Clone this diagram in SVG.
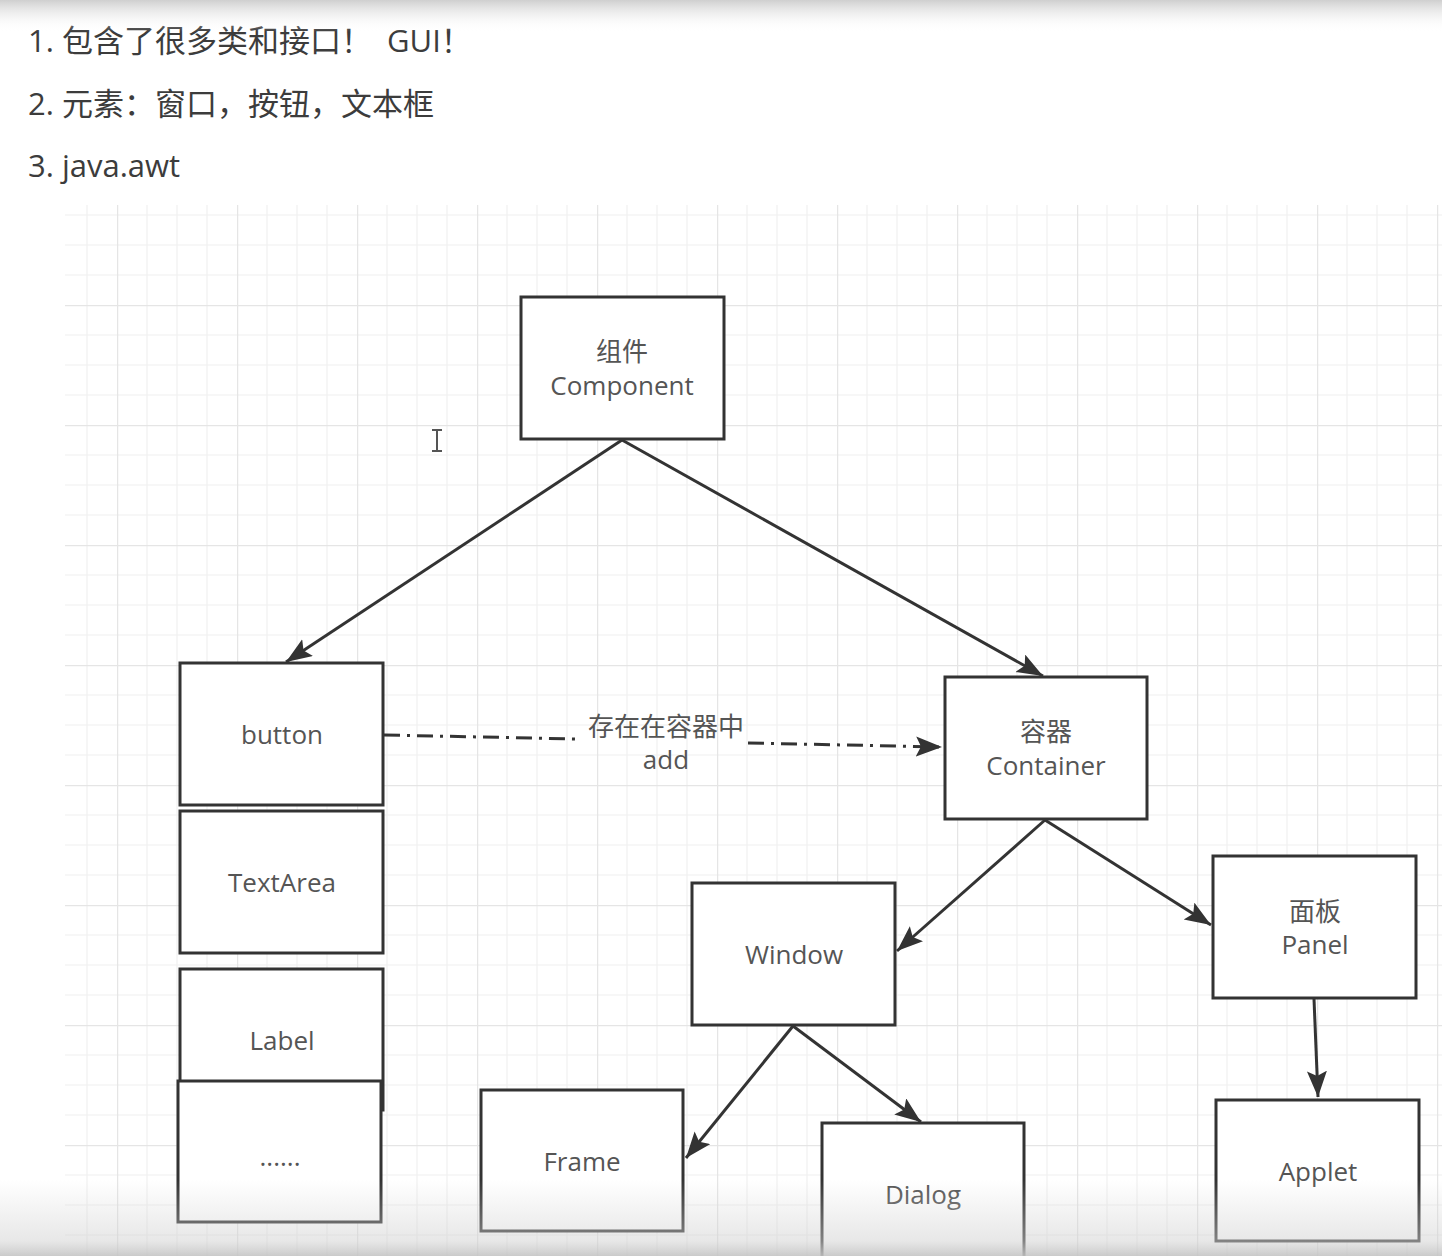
<svg xmlns="http://www.w3.org/2000/svg" width="1442" height="1256" viewBox="0 0 1442 1256">
<style>
.node rect{fill:#fff;stroke:#333;stroke-width:3}
.lbl{font-family:"Open Sans","Noto Sans CJK SC",sans-serif;font-size:26px;fill:#555;text-anchor:middle}
.hdr{font-family:"Open Sans","Noto Sans CJK SC",sans-serif;font-size:31px;fill:#3c3c3c}
.edge{fill:none;stroke:#333;stroke-width:3}
.dash{stroke-dasharray:16 7 3 7}
</style>
<defs>
<pattern id="grid" patternUnits="userSpaceOnUse" x="117" y="305" width="120" height="120">
<path d="M30 0V120M60 0V120M90 0V120M0 30H120M0 60H120M0 90H120" stroke="#f0f0f0" stroke-width="1.2" fill="none"/>
<path d="M0.5 0V120M0 0.5H120" stroke="#e5e5e5" stroke-width="1.5" fill="none"/>
</pattern>
<marker id="arr" markerUnits="userSpaceOnUse" markerWidth="28" markerHeight="22" refX="26" refY="10" orient="auto">
<path d="M0 0L26 10L0 20L5 10Z" fill="#333"/>
</marker>
<linearGradient id="topg" x1="0" y1="0" x2="0" y2="1">
<stop offset="0" stop-color="#cfcfcf"/>
<stop offset="1" stop-color="#ffffff" stop-opacity="0"/>
</linearGradient>
<linearGradient id="botg" x1="0" y1="0" x2="0" y2="1">
<stop offset="0" stop-color="#d0d0d0" stop-opacity="0"/>
<stop offset="0.8" stop-color="#d0d0d0" stop-opacity="0.5"/>
<stop offset="1" stop-color="#c4c4c4" stop-opacity="0.9"/>
</linearGradient>
</defs>
<rect width="1442" height="1256" fill="#fff"/>
<rect x="65" y="205" width="1377" height="1051" fill="url(#grid)"/>
<g id="header">
<text class="hdr" x="28" y="52">1. 包含了很多类和接口！<tspan x="387">GUI！</tspan></text>
<text class="hdr" x="28" y="115">2. 元素：窗口，按钮，文本框</text>
<text class="hdr" x="28" y="177">3. java.awt</text>
</g>
<g id="connectors">
<line class="edge" x1="622" y1="440" x2="286" y2="662" marker-end="url(#arr)"/>
<line class="edge" x1="622" y1="440" x2="1043" y2="676" marker-end="url(#arr)"/>
<path class="edge dash" d="M384 735L578 739"/>
<path class="edge dash" d="M748 743L942 747" marker-end="url(#arr)"/>
<line class="edge" x1="1045" y1="820" x2="897" y2="951" marker-end="url(#arr)"/>
<line class="edge" x1="1045" y1="820" x2="1211" y2="925" marker-end="url(#arr)"/>
<line class="edge" x1="793" y1="1026" x2="686" y2="1158" marker-end="url(#arr)"/>
<line class="edge" x1="793" y1="1026" x2="921" y2="1122" marker-end="url(#arr)"/>
<line class="edge" x1="1314" y1="999" x2="1318" y2="1097" marker-end="url(#arr)"/>
<text class="lbl" x="666" y="736">存在在容器中</text>
<text class="lbl" x="666" y="769">add</text>
</g>
<g id="component" class="node"><rect x="521" y="297" width="203" height="142"/><text class="lbl" x="622" y="361">组件</text><text class="lbl" x="622" y="395">Component</text></g>
<g id="button" class="node"><rect x="180" y="663" width="203" height="142"/><text class="lbl" x="282" y="744">button</text></g>
<g id="textarea" class="node"><rect x="180" y="811" width="203" height="142"/><text class="lbl" x="282" y="892">TextArea</text></g>
<g id="label" class="node"><rect x="180" y="969" width="203" height="141"/><text class="lbl" x="282" y="1050">Label</text></g>
<g id="more" class="node"><rect x="178" y="1081" width="203" height="141"/><text class="lbl" x="280" y="1166">......</text></g>
<g id="container" class="node"><rect x="945" y="677" width="202" height="142"/><text class="lbl" x="1046" y="741">容器</text><text class="lbl" x="1046" y="775">Container</text></g>
<g id="window" class="node"><rect x="692" y="883" width="203" height="142"/><text class="lbl" x="794" y="964">Window</text></g>
<g id="panel" class="node"><rect x="1213" y="856" width="203" height="142"/><text class="lbl" x="1315" y="921">面板</text><text class="lbl" x="1315" y="954">Panel</text></g>
<g id="frame" class="node"><rect x="481" y="1090" width="202" height="141"/><text class="lbl" x="582" y="1171">Frame</text></g>
<g id="dialog" class="node"><rect x="822" y="1123" width="202" height="150"/><text class="lbl" x="923" y="1204">Dialog</text></g>
<g id="applet" class="node"><rect x="1216" y="1100" width="203" height="141"/><text class="lbl" x="1318" y="1181">Applet</text></g>
<path d="M437 430V451M432 430H442M432 451H442" stroke="#555" stroke-width="2" fill="none"/>
<rect x="0" y="0" width="1442" height="32" fill="url(#topg)"/>
<rect x="0" y="1180" width="1442" height="76" fill="url(#botg)"/>
</svg>
